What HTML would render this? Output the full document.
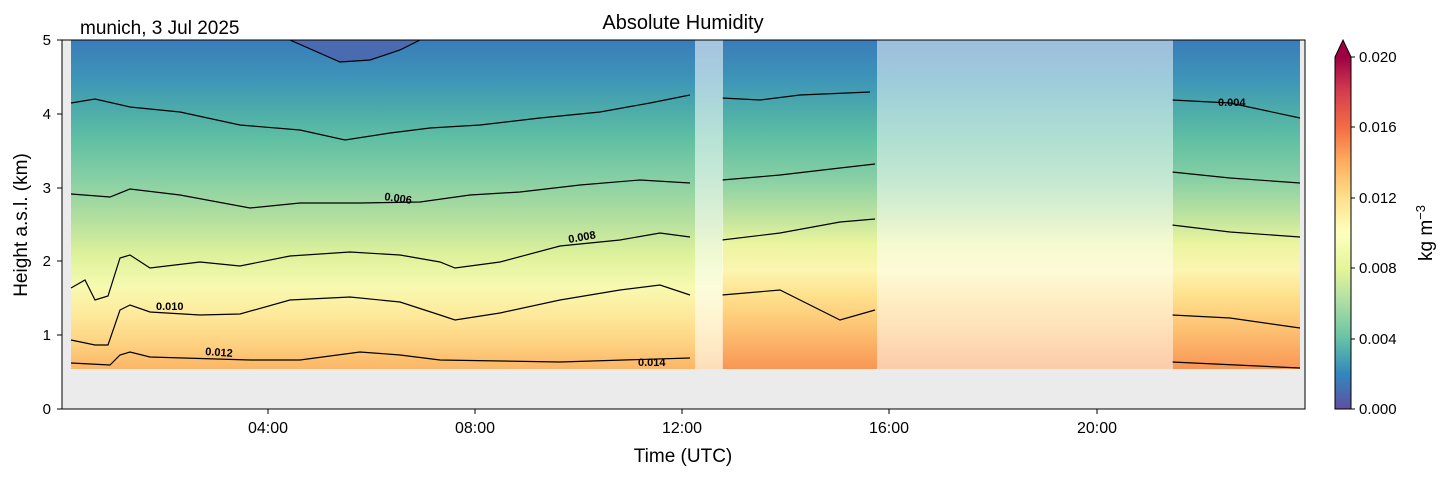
<!DOCTYPE html>
<html><head><meta charset="utf-8"><style>
html,body{margin:0;padding:0;background:#fff;}
svg text{font-family:"Liberation Sans","DejaVu Sans",sans-serif;}
</style></head><body>
<svg width="1454" height="478" viewBox="0 0 1454 478" xmlns="http://www.w3.org/2000/svg">
<defs>
<linearGradient id="g" x1="0" y1="40" x2="0" y2="369" gradientUnits="userSpaceOnUse">
<stop offset="0" stop-color="#3a7cb9"/>
<stop offset="0.12" stop-color="#3d95b8"/>
<stop offset="0.2" stop-color="#4aa9ab"/>
<stop offset="0.3" stop-color="#5fbfa3"/>
<stop offset="0.42" stop-color="#86cfa5"/>
<stop offset="0.55" stop-color="#b5e09e"/>
<stop offset="0.65" stop-color="#ddf19b"/>
<stop offset="0.75" stop-color="#f7fab0"/>
<stop offset="0.84" stop-color="#fee89a"/>
<stop offset="0.93" stop-color="#fdd07f"/>
<stop offset="1" stop-color="#fcb566"/>
</linearGradient>
<linearGradient id="g2" x1="0" y1="40" x2="0" y2="369" gradientUnits="userSpaceOnUse">
<stop offset="0" stop-color="#3a7cb9"/>
<stop offset="0.12" stop-color="#3d95b8"/>
<stop offset="0.2" stop-color="#4aa9ab"/>
<stop offset="0.3" stop-color="#5fbfa3"/>
<stop offset="0.42" stop-color="#86cfa5"/>
<stop offset="0.55" stop-color="#c5e69e"/>
<stop offset="0.62" stop-color="#ebf59f"/>
<stop offset="0.7" stop-color="#fcf5b0"/>
<stop offset="0.78" stop-color="#fee08b"/>
<stop offset="0.88" stop-color="#fdc172"/>
<stop offset="1" stop-color="#f99655"/>
</linearGradient>
<linearGradient id="cb" x1="0" y1="409" x2="0" y2="57" gradientUnits="userSpaceOnUse">
<stop offset="0" stop-color="#5e4fa2"/>
<stop offset="0.1" stop-color="#3288bd"/>
<stop offset="0.2" stop-color="#66c2a5"/>
<stop offset="0.3" stop-color="#abdda4"/>
<stop offset="0.4" stop-color="#e6f598"/>
<stop offset="0.5" stop-color="#ffffbf"/>
<stop offset="0.6" stop-color="#fee08b"/>
<stop offset="0.7" stop-color="#fdae61"/>
<stop offset="0.8" stop-color="#f46d43"/>
<stop offset="0.9" stop-color="#d53e4f"/>
<stop offset="1" stop-color="#9e0142"/>
</linearGradient>
</defs>
<rect x="62" y="40" width="1243" height="369" fill="#ebebeb"/>
<rect x="71" y="40" width="1229" height="329" fill="url(#g)"/>
<rect x="722" y="40" width="578" height="329" fill="url(#g2)"/>
<path d="M230,40 L290,40 340,62 370,60 400,50 420,40 Z" fill="#4a6bb0"/>
<g fill="none" stroke="#000" stroke-width="1.2">
<polyline points="71,103 95,99 130,107 180,112 240,125 300,130 345,140 390,133 430,128 480,125 540,118 600,112 650,103 690,95"/>
<polyline points="722,98 760,100 800,95 870,92"/>
<polyline points="1172,100 1230,103 1300,118"/>
<polyline points="71,194 110,197 130,189 180,195 250,208 300,203 360,203 420,202 470,195 520,192 580,185 640,180 690,183"/>
<polyline points="722,180 780,175 840,168 875,164"/>
<polyline points="1172,172 1230,178 1300,183"/>
<polyline points="71,288 85,280 95,300 108,296 120,258 130,255 150,268 200,262 240,266 290,256 350,252 400,255 440,262 455,268 500,262 560,246 620,240 660,233 690,237"/>
<polyline points="722,240 780,233 840,222 875,219"/>
<polyline points="1172,225 1230,232 1300,237"/>
<polyline points="71,340 95,345 108,345 120,310 130,305 150,312 200,315 240,314 290,300 350,297 400,302 440,315 455,320 500,313 560,300 620,290 660,285 690,295"/>
<polyline points="722,295 780,290 840,320 875,310"/>
<polyline points="1172,315 1230,318 1300,328"/>
<polyline points="71,363 110,365 120,355 130,352 150,357 250,360 300,360 360,352 400,355 440,360 560,362 690,358"/>
<polyline points="1172,362 1300,368"/>
<polyline points="290,40 340,62 370,60 400,50 420,40"/>
</g>
<rect x="695" y="40" width="28" height="329" fill="#fff" opacity="0.55"/>
<rect x="877" y="40" width="296" height="329" fill="#fff" opacity="0.5"/>
<g font-size="11" font-weight="bold" fill="#000">
<text x="384" y="200" transform="rotate(8 384 200)">0.006</text>
<text x="569" y="243" transform="rotate(-10 569 243)">0.008</text>
<text x="156" y="310">0.010</text>
<text x="205" y="355" transform="rotate(4 205 355)">0.012</text>
<text x="638" y="366">0.014</text>
<text x="1218" y="106">0.004</text>
</g>
<rect x="62" y="40" width="1243" height="369" fill="none" stroke="#000" stroke-width="1"/>
<g stroke="#000" stroke-width="1">
<line x1="268" y1="409" x2="268" y2="414"/><line x1="475" y1="409" x2="475" y2="414"/><line x1="682" y1="409" x2="682" y2="414"/><line x1="889" y1="409" x2="889" y2="414"/><line x1="1097" y1="409" x2="1097" y2="414"/>
<line x1="57" y1="40" x2="62" y2="40"/><line x1="57" y1="114" x2="62" y2="114"/><line x1="57" y1="188" x2="62" y2="188"/><line x1="57" y1="261" x2="62" y2="261"/><line x1="57" y1="335" x2="62" y2="335"/><line x1="57" y1="409" x2="62" y2="409"/>
</g>
<g font-size="16" fill="#000" text-anchor="middle">
<text x="268" y="433">04:00</text><text x="475" y="433">08:00</text><text x="682" y="433">12:00</text><text x="889" y="433">16:00</text><text x="1097" y="433">20:00</text>
</g>
<g font-size="15" fill="#000" text-anchor="end">
<text x="51" y="45">5</text><text x="51" y="119">4</text><text x="51" y="193">3</text><text x="51" y="266">2</text><text x="51" y="340">1</text><text x="51" y="414">0</text>
</g>
<text x="683" y="462" font-size="19" text-anchor="middle">Time (UTC)</text>
<text x="27" y="225" font-size="19" text-anchor="middle" transform="rotate(-90 27 225)">Height a.s.l. (km)</text>
<text x="683" y="29" font-size="20" text-anchor="middle">Absolute Humidity</text>
<text x="80" y="34" font-size="19">munich, 3 Jul 2025</text>
<rect x="1335" y="57" width="16" height="352" fill="url(#cb)"/>
<polygon points="1335,57 1343,40 1351,57" fill="#9e0142"/>
<polygon points="1335,57 1343,40 1351,57 1351,409 1335,409" fill="none" stroke="#000" stroke-width="1"/>
<g stroke="#000" stroke-width="1">
<line x1="1351" y1="57" x2="1355" y2="57"/><line x1="1351" y1="127" x2="1355" y2="127"/><line x1="1351" y1="198" x2="1355" y2="198"/><line x1="1351" y1="268" x2="1355" y2="268"/><line x1="1351" y1="339" x2="1355" y2="339"/><line x1="1351" y1="409" x2="1355" y2="409"/>
</g>
<g font-size="15" fill="#000">
<text x="1359" y="62">0.020</text><text x="1359" y="132">0.016</text><text x="1359" y="203">0.012</text><text x="1359" y="273">0.008</text><text x="1359" y="344">0.004</text><text x="1359" y="414">0.000</text>
</g>
<text x="1432" y="233" font-size="19" text-anchor="middle" transform="rotate(-90 1432 233)">kg m<tspan font-size="13" dy="-7">−3</tspan></text>
</svg>
</body></html>
